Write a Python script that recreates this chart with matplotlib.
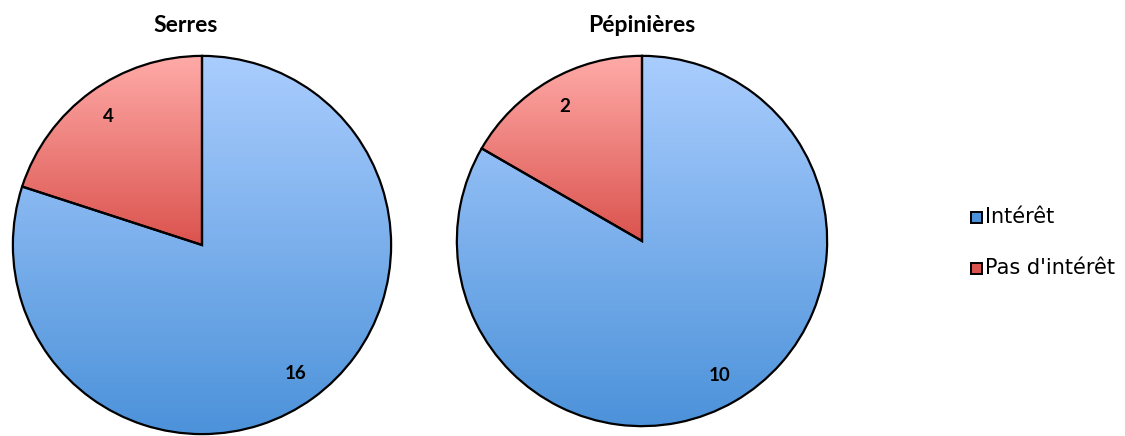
import numpy as np
import matplotlib
matplotlib.use("Agg")
import matplotlib.pyplot as plt
from matplotlib.colors import LinearSegmentedColormap
from matplotlib.patches import Rectangle

# données
titres = ["Serres", "Pépinières"]
categories = ["Intérêt", "Pas d'intérêt"]
serres = [16, 4]
pepinieres = [10, 2]

# dégradés (haut -> bas)
degrades = [("#AACDFE", "#4C92DA"), ("#FFABA8", "#DB534E")]

W, H = 1125, 436
fig = plt.figure(figsize=(W / 100, H / 100), dpi=100)


def camembert(cx, cy, r, valeurs, titre, tx):
    ax = fig.add_axes([(cx - r) / W, (H - cy - r) / H, 2 * r / W, 2 * r / H])
    ax.set_aspect("equal")
    ax.axis("off")
    wedges, textes = ax.pie(valeurs, startangle=90, counterclock=False,
                            labels=[str(v) for v in valeurs], labeldistance=0.84,
                            wedgeprops=dict(edgecolor="black", linewidth=1.6, facecolor="none"),
                            textprops=dict(fontsize=13.5, fontweight="bold", family="Lato",
                                           ha="center", va="center"))
    for w, (haut, bas) in zip(wedges, degrades):
        bb = w.get_path().get_extents()
        cmap = LinearSegmentedColormap.from_list("g", [bas, haut])
        grad = np.linspace(0, 1, 256).reshape(-1, 1)
        im = ax.imshow(grad, cmap=cmap, origin="lower", aspect="auto",
                       extent=[bb.x0, bb.x1, bb.y0, bb.y1], zorder=0.5)
        im.set_clip_path(w.get_path(), ax.transData)
        w.set_zorder(1)
    ax.set_xlim(-1.01, 1.01)
    ax.set_ylim(-1.01, 1.01)
    fig.text(tx / W, 1 - 25 / H, titre, ha="center", va="center",
             fontsize=16.5, fontweight="bold", family="Lato")


camembert(202, 245, 191, serres, titres[0], 186)
camembert(642, 241, 187, pepinieres, titres[1], 642)

# légende
for i, (cat, (haut, bas)) in enumerate(zip(categories, degrades)):
    y = 1 - (217 + 51 * i) / H
    fig.patches.append(Rectangle((971 / W, y - 5.5 / H), 11 / W, 11 / H,
                                 transform=fig.transFigure, facecolor=bas,
                                 edgecolor="black", linewidth=1.4))
    fig.text(985 / W, y, cat, ha="left", va="center", fontsize=15,
             family="DejaVu Sans")

fig.savefig("out.png", dpi=100)
